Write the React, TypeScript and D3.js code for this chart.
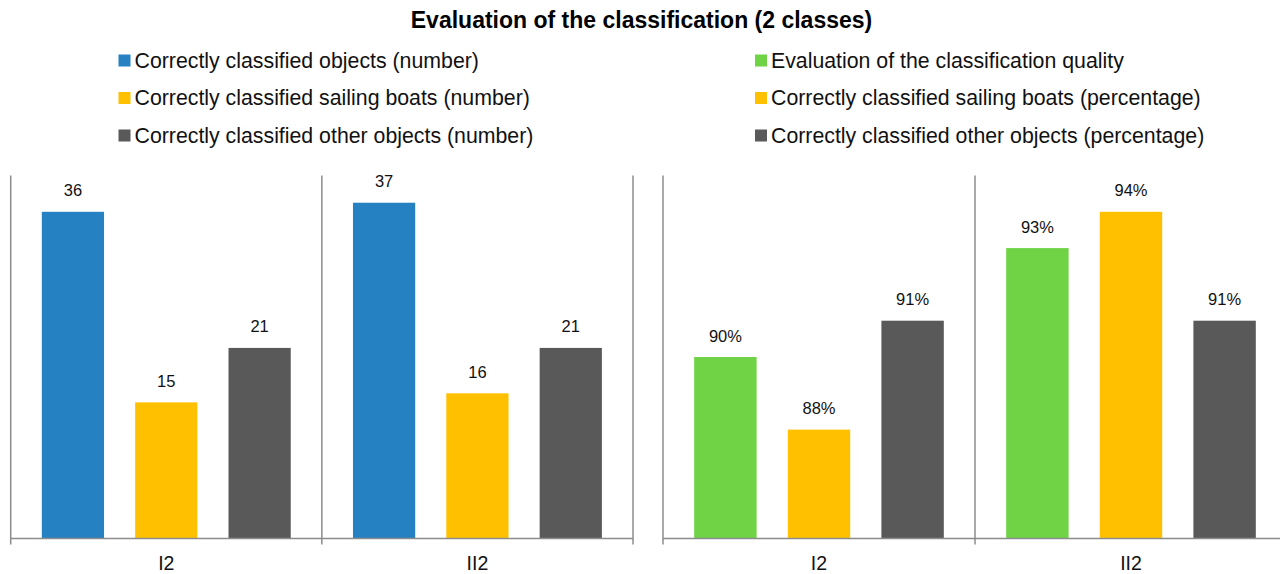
import { useRef, useEffect } from "react";
import * as d3 from "d3";

const categories = ["I2", "II2"];

// left panel: counts
const countSeries = ["objects", "boats", "other"];
const countValues = [
  [36, 15, 21],
  [37, 16, 21],
];
const countTicks = [0, 40];

// right panel: percentages
const pctSeries = ["quality", "boats", "other"];
const pctValues = [
  [90, 88, 91],
  [93, 94, 91],
];
const pctTicks = [85, 95];

const COLORS: Record<string, string> = {
  objects: "#2581C1",
  quality: "#6FD345",
  boats: "#FFC000",
  other: "#595959",
};

const legendLeft = [
  { key: "objects", label: "Correctly classified objects (number)" },
  { key: "boats", label: "Correctly classified sailing boats (number)" },
  { key: "other", label: "Correctly classified other objects (number)" },
];
const legendRight = [
  { key: "quality", label: "Evaluation of the classification quality" },
  { key: "boats", label: "Correctly classified sailing boats (percentage)" },
  { key: "other", label: "Correctly classified other objects (percentage)" },
];

const W = 1280;
const H = 574;
const FONT = "'Liberation Sans', Arial, sans-serif";

export default function App() {
  const svgRef = useRef<SVGSVGElement>(null);

  useEffect(() => {
    const svg = d3.select(svgRef.current);
    svg.selectAll("*").remove();

    const top = 175.5;
    const base = 538.5;

    svg
      .append("text")
      .attr("x", 641.5)
      .attr("y", 28)
      .attr("text-anchor", "middle")
      .attr("font-family", FONT)
      .attr("font-weight", "700")
      .attr("font-size", 23)
      .attr("fill", "#000")
      .text("Evaluation of the classification (2 classes)");

    // legend
    const drawLegend = (items: typeof legendLeft, x: number) => {
      items.forEach((it, i) => {
        const cy = 60.5 + i * 37.5;
        svg
          .append("rect")
          .attr("x", x)
          .attr("y", cy - 6)
          .attr("width", 12)
          .attr("height", 12)
          .attr("fill", COLORS[it.key]);
        svg
          .append("text")
          .attr("x", x + 16)
          .attr("y", cy + 7)
          .attr("font-family", FONT)
          .attr("font-size", 21.3)
          .attr("fill", "#111")
          .text(it.label);
      });
    };
    drawLegend(legendLeft, 118.5);
    drawLegend(legendRight, 755);

    const panel = (
      x0: number,
      x1: number,
      series: string[],
      values: number[][],
      ticks: number[],
      fmt: (v: number) => string
    ) => {
      const x = d3.scaleBand<string>().domain(categories).range([x0, x1]);
      const xs = d3
        .scaleBand<string>()
        .domain(series)
        .range([0, x.bandwidth()])
        .paddingInner(1 / 3)
        .paddingOuter(1 / 3);
      const y = d3.scaleLinear().domain(ticks).range([base, top]);

      const g = svg.append("g");

      // bars
      categories.forEach((c, ci) => {
        series.forEach((s, si) => {
          const v = values[ci][si];
          const bx = x(c)! + xs(s)!;
          g.append("rect")
            .attr("x", bx)
            .attr("y", y(v))
            .attr("width", xs.bandwidth())
            .attr("height", base - y(v))
            .attr("fill", COLORS[s]);
          g.append("text")
            .attr("x", bx + xs.bandwidth() / 2)
            .attr("y", y(v) - 15.5)
            .attr("text-anchor", "middle")
            .attr("font-family", FONT)
            .attr("font-size", 16.5)
            .attr("fill", "#111")
            .text(fmt(v));
        });
        g.append("text")
          .attr("x", x(c)! + x.bandwidth() / 2)
          .attr("y", 569.5)
          .attr("text-anchor", "middle")
          .attr("font-family", FONT)
          .attr("font-size", 19.5)
          .attr("fill", "#111")
          .text(c);
      });

      // axes / separators
      const bounds = [x0, ...categories.map((c) => x(c)! + x.bandwidth())];
      bounds.forEach((b) => {
        g.append("line")
          .attr("x1", b)
          .attr("x2", b)
          .attr("y1", top)
          .attr("y2", base + 6)
          .attr("stroke", "#8c8c8c")
          .attr("stroke-width", 1.5);
      });
      g.append("line")
        .attr("x1", x0)
        .attr("x2", x1)
        .attr("y1", base)
        .attr("y2", base)
        .attr("stroke", "#8c8c8c")
        .attr("stroke-width", 1.5);
    };

    panel(10.7, 633, countSeries, countValues, countTicks, (v) => `${v}`);
    panel(663, 1287, pctSeries, pctValues, pctTicks, (v) => `${v}%`);
  }, []);

  return (
    <svg
      ref={svgRef}
      width={W}
      height={H}
      style={{ position: "absolute", left: 0, top: 0, background: "#fff", display: "block" }}
    />
  );
}
